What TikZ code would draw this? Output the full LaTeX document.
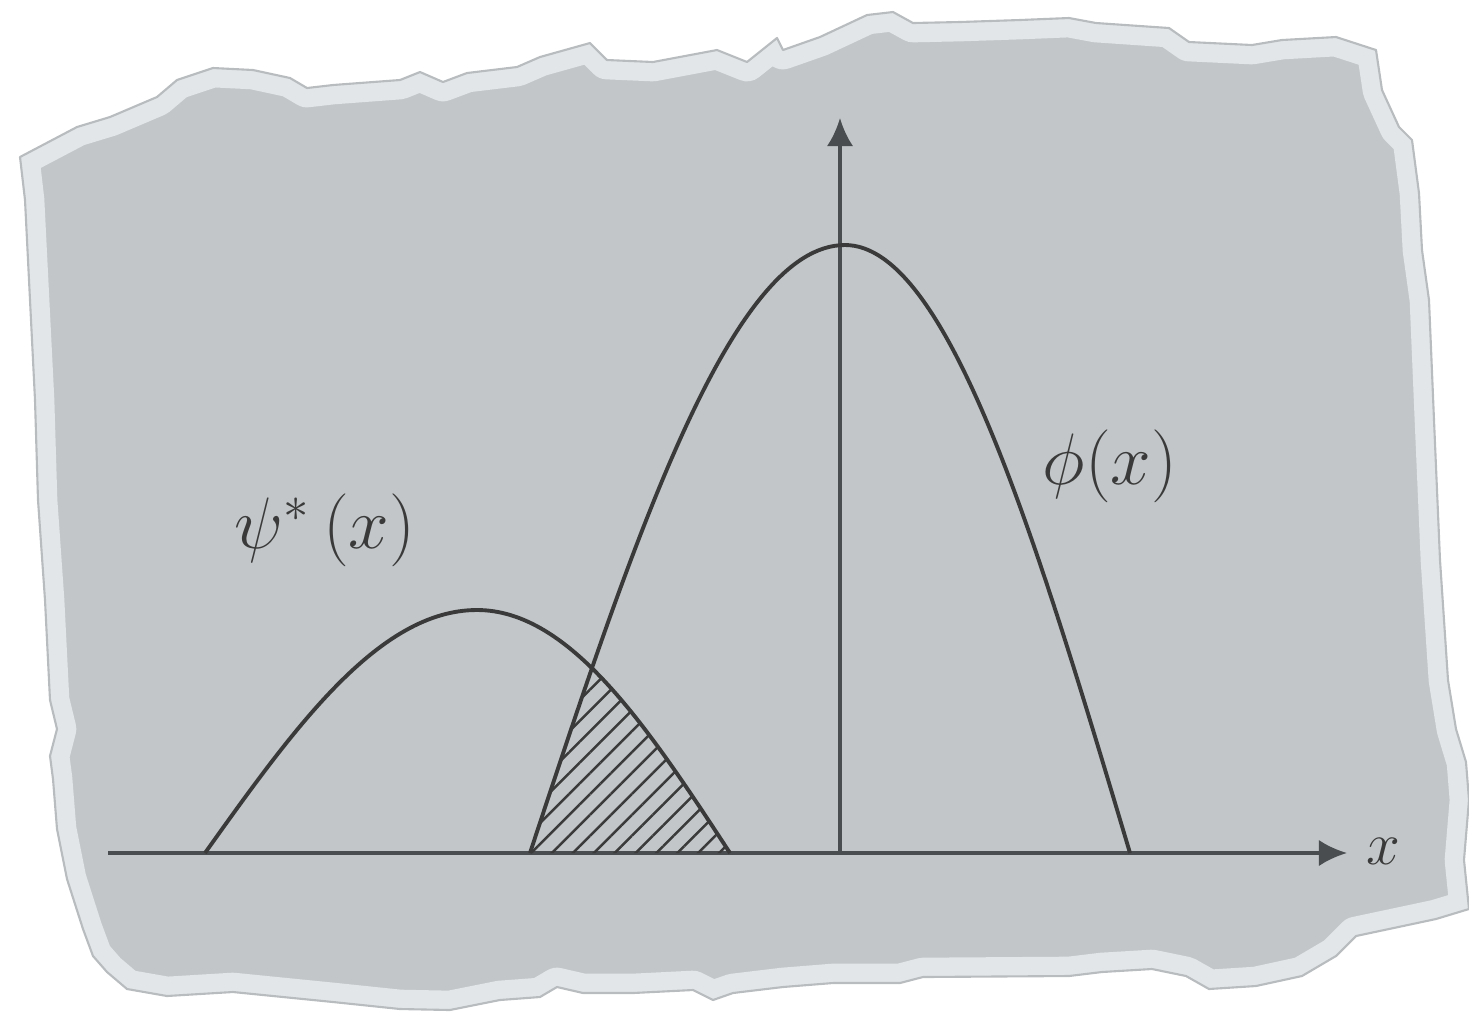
\documentclass[tikz,border=0pt]{standalone}
\usetikzlibrary{arrows.meta,patterns.meta}

\definecolor{paper}{RGB}{194,198,200}
\definecolor{paperedge}{RGB}{226,230,233}
\definecolor{tornline}{RGB}{184,188,191}
\definecolor{ink}{RGB}{58,58,58}
\definecolor{axisink}{RGB}{74,77,80}

\tikzset{
  curve/.style={ink,line width=1.1pt},
  axisline/.style={axisink,line width=1pt,-{Latex[length=8pt,width=7.5pt]}},
  lbl/.style={ink,font=\fontsize{22}{26}\selectfont,inner sep=0pt}
}

\begin{document}
\begin{tikzpicture}[x=0.01cm,y=-0.01cm,>=latex]

\useasboundingbox (0,0) rectangle (1469,1029);

% torn sheet
\def\sheet{(20,157) -- (77,127) -- (110,117) -- (157,97) -- (177,80) -- (213,68)
  -- (253,70) -- (290,78) -- (307,88) -- (333,85) -- (400,80) -- (420,72)
  -- (443,82) -- (467,73) -- (517,67) -- (540,57) -- (590,43) -- (607,60)
  -- (653,62) -- (717,50) -- (747,62) -- (777,38) -- (783,50) -- (820,37)
  -- (867,15) -- (893,12) -- (913,23) -- (960,22) -- (1020,20) -- (1069,18)
  -- (1096,23) -- (1169,28) -- (1189,42) -- (1252,45) -- (1282,40)
  -- (1336,37) -- (1376,50) -- (1382,90) -- (1399,127) -- (1412,140)
  -- (1419,193) -- (1422,250) -- (1429,300) -- (1434,420) -- (1440,560)
  -- (1448,680) -- (1456,729) -- (1466,762) -- (1469,800) -- (1464,860)
  -- (1469,909) -- (1436,919) -- (1389,929) -- (1356,936) -- (1336,956)
  -- (1302,976) -- (1256,986) -- (1209,989) -- (1186,976) -- (1152,969)
  -- (1102,972) -- (1069,976) -- (923,977) -- (900,983) -- (833,983)
  -- (783,987) -- (733,993) -- (713,1000) -- (693,990) -- (633,993)
  -- (583,993) -- (557,987) -- (540,997) -- (500,1000) -- (450,1010)
  -- (400,1009) -- (333,1002) -- (233,992) -- (167,996) -- (127,989)
  -- (107,972) -- (93,956) -- (83,929) -- (67,879) -- (57,829)
  -- (53,779) -- (50,756) -- (57,729) -- (50,700) -- (45,600)
  -- (38,500) -- (35,400) -- (30,300) -- (25,200) -- cycle}

\fill[paper] \sheet;
\begin{scope}
  \clip \sheet;
  \draw[paperedge,line width=11pt,line join=round] \sheet;
\end{scope}
\draw[tornline,line width=0.6pt,line join=round] \sheet;

% axes
\coordinate (O) at (840,853);
\coordinate (xstart) at (108,853);
\coordinate (xtip) at (1347,853);
\coordinate (ytip) at (840,118);

\draw[axisline] (xstart) -- (xtip);
\draw[axisline] (O) -- (ytip);

% overlap
\begin{scope}
  \clip (530,853) .. controls (632.7,541.5) and (731,245) .. (845,245)
    .. controls (948,245) and (1037,541.5) .. (1130,853) -- cycle;
  \fill[pattern={Lines[angle=45,distance=4.2pt,line width=0.7pt]},pattern color=ink]
    (205,853) .. controls (293.7,728.5) and (378.6,610) .. (477,610)
    .. controls (570.5,610) and (648.5,728.5) .. (730,853) -- cycle;
\end{scope}

% curves
\draw[curve] (205,853) .. controls (293.7,728.5) and (378.6,610) .. (477,610)
  .. controls (570.5,610) and (648.5,728.5) .. (730,853);
\draw[curve] (530,853) .. controls (632.7,541.5) and (731,245) .. (845,245)
  .. controls (948,245) and (1037,541.5) .. (1130,853);

% labels
\node[lbl] (psilab) at (325,530) {$\psi^{*}\,(x)$};
\node[lbl] (philab) at (1110,466) {$\phi(x)$};
\node[lbl,font=\fontsize{19}{22}\selectfont] (xlab) at (1383,851) {$x$};

\end{tikzpicture}
\end{document}
